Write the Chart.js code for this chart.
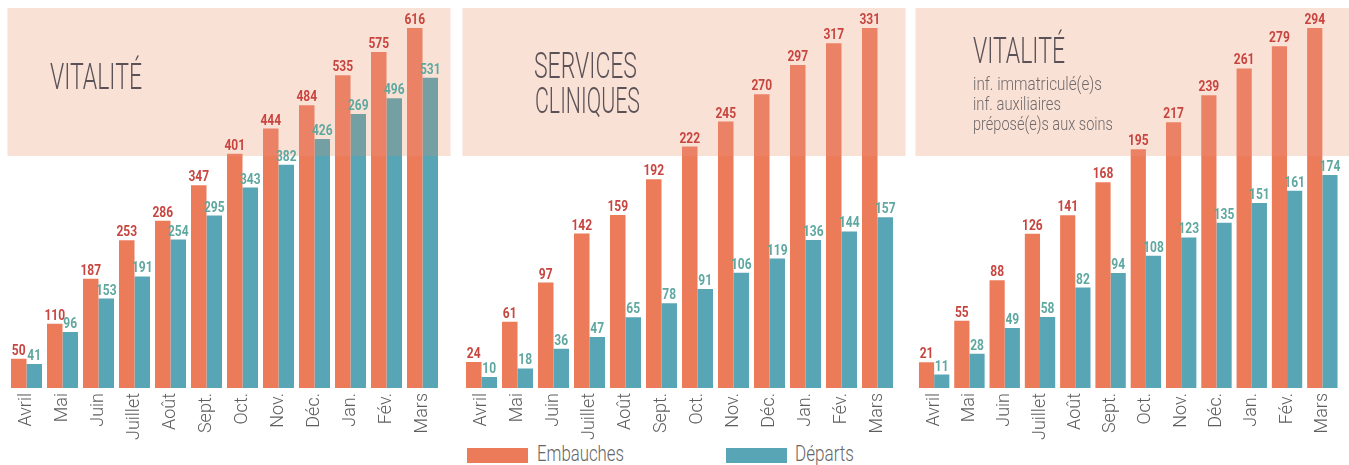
<!DOCTYPE html>
<html><head><meta charset="utf-8">
<script src="https://cdn.jsdelivr.net/npm/chart.js@4.4.1/dist/chart.umd.min.js"></script>
<style>
html,body{margin:0;padding:0;background:#fff;}
body{width:1349px;height:465px;overflow:hidden;position:relative;font-family:Roboto,sans-serif;}
canvas{position:absolute;top:0;}
.t{position:absolute;white-space:nowrap;transform-origin:0 0;line-height:1;font-weight:300;color:#5b5257;}
.sub{position:absolute;white-space:nowrap;transform-origin:0 0;font-weight:300;color:#6f696a;font-size:18px;line-height:20px;}
.lg-box{position:absolute;top:448px;width:61px;height:15px;}
.lg-txt{position:absolute;top:441px;font-size:22px;line-height:26px;font-weight:300;color:#666;white-space:nowrap;transform-origin:0 0;}
</style>
</head><body>
<canvas id="c1" width="455" height="440" style="left:0px"></canvas>
<canvas id="c2" width="455" height="440" style="left:455px"></canvas>
<canvas id="c3" width="439" height="440" style="left:910px"></canvas>

<div class="t" data-w="92" style="left:50px;top:58px;font-size:37px;">VITALITÉ</div>
<div class="t" data-w="103" style="left:534px;top:48px;font-size:36px;">SERVICES</div>
<div class="t" data-w="105" style="left:535px;top:83px;font-size:36px;">CLINIQUES</div>
<div class="t" data-w="92" style="left:973px;top:32px;font-size:37px;">VITALITÉ</div>
<div class="sub" data-w="129" style="left:973px;top:74px;">inf. immatriculé(e)s</div>
<div class="sub" data-w="88" style="left:973px;top:94px;">inf. auxiliaires</div>
<div class="sub" data-w="140" style="left:973px;top:114px;">préposé(e)s aux soins</div>

<div id="lg1" class="lg-box" style="left:467px;"></div>
<div id="lgt1" class="lg-txt" data-w="87" style="left:537px;"></div>
<div id="lg2" class="lg-box" style="left:726px;"></div>
<div id="lgt2" class="lg-txt" data-w="59" style="left:795px;"></div>

<script>
// ---- data ----
const months = ['Avril','Mai','Juin','Juillet','Août','Sept.','Oct.','Nov.','Déc.','Jan.','Fév.','Mars'];
const seriesNames = ['Embauches','Départs'];

const vitaliteEmbauches = [50,110,187,253,286,347,401,444,484,535,575,616];
const vitaliteDeparts   = [41,96,153,191,254,295,343,382,426,469,496,531];
// labels as printed on the chart (Jan. bar is labelled 269)
const vitaliteDepartsPrinted = [41,96,153,191,254,295,343,382,426,269,496,531];

const cliniquesEmbauches = [24,61,97,142,159,192,222,245,270,297,317,331];
const cliniquesDeparts   = [10,18,36,47,65,78,91,106,119,136,144,157];

const infEmbauches = [21,55,88,126,141,168,195,217,239,261,279,294];
const infDeparts   = [11,28,49,58,82,94,108,123,135,151,161,174];

// ---- styles ----
const orange = '#ec7b5a', teal = '#58a6b5';
const orangeLbl = '#c8453f', tealLbl = '#5ea89f';

const panelPlugin = {
  id: 'panel',
  afterDatasetsDraw(chart) {
    const {ctx, chartArea} = chart;
    const x0 = chartArea.left - 1;
    const x1 = Math.min(chart.width, chartArea.right + 10);
    ctx.save();
    ctx.globalCompositeOperation = 'multiply';
    ctx.fillStyle = '#fbe1d6';
    ctx.fillRect(x0, 8, x1 - x0, 148);
    ctx.globalCompositeOperation = 'source-over';
    ctx.fillStyle = 'rgba(251,225,214,0.18)';
    ctx.fillRect(x0, 8, x1 - x0, 148);
    ctx.restore();
    chart.data.datasets.forEach((ds, di) => {
      const meta = chart.getDatasetMeta(di);
      const txt = ds.printed || ds.data;
      meta.data.forEach((bar, i) => {
        ctx.save();
        ctx.font = 'bold 15px Roboto';
        ctx.fillStyle = ds.labelColor;
        ctx.textAlign = 'center';
        ctx.textBaseline = 'alphabetic';
        ctx.translate(bar.x, bar.y - 4);
        ctx.scale(0.8, 1);
        ctx.fillText(String(txt[i]), 0, 0);
        ctx.restore();
      });
    });
  }
};

function makeChart(id, emb, dep, depPrinted, padL, padR) {
  return new Chart(document.getElementById(id), {
    type: 'bar',
    data: {
      labels: months,
      datasets: [
        {label: seriesNames[0], data: emb, backgroundColor: orange, labelColor: orangeLbl,
         categoryPercentage: 0.861, barPercentage: 1},
        {label: seriesNames[1], data: dep, printed: depPrinted, backgroundColor: teal, labelColor: tealLbl,
         categoryPercentage: 0.861, barPercentage: 1}
      ]
    },
    options: {
      responsive: false,
      animation: false,
      events: [],
      layout: {padding: {top: 28, left: padL, right: padR, bottom: 0}},
      plugins: {legend: {display: false}, tooltip: {enabled: false}},
      scales: {
        x: {
          grid: {display: false, drawTicks: false},
          border: {display: false},
          ticks: {autoSkip: false, minRotation: 90, maxRotation: 90, padding: 5, color: '#5e5e5e',
                  font: {family: 'Roboto', size: 18, weight: '300'}},
          afterFit(s) { s.height = 52; }
        },
        y: {display: false, min: 0, max: Math.max(...emb)}
      }
    },
    plugins: [panelPlugin]
  });
}

async function init() {
  try {
    await Promise.all([
      document.fonts.load('300 18px Roboto'),
      document.fonts.load('bold 15px Roboto'),
      document.fonts.load('300 37px Roboto')
    ]);
  } catch (e) {}
  makeChart('c1', vitaliteEmbauches, vitaliteDeparts, vitaliteDepartsPrinted, 8.5, 14.5);
  makeChart('c2', cliniquesEmbauches, cliniquesDeparts, null, 8.5, 14.5);
  makeChart('c3', infEmbauches, infDeparts, null, 6.5, 1.5);

  document.getElementById('lg1').style.background = orange;
  document.getElementById('lg2').style.background = teal;
  document.getElementById('lgt1').textContent = seriesNames[0];
  document.getElementById('lgt2').textContent = seriesNames[1];

  document.querySelectorAll('[data-w]').forEach(el => {
    const w = el.getBoundingClientRect().width;
    const target = parseFloat(el.dataset.w);
    if (w > 0) el.style.transform = 'scaleX(' + (target / w) + ')';
  });
}
init();
</script>
</body></html>
